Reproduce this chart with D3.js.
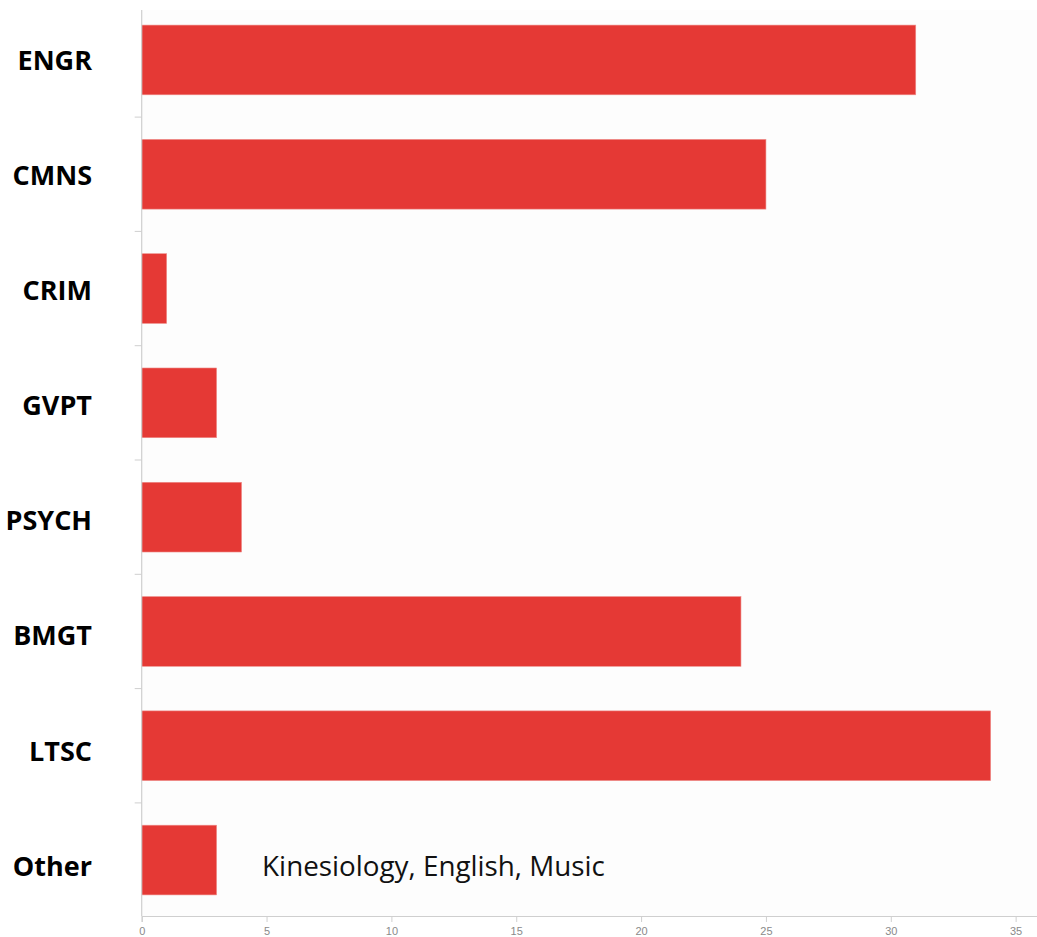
<!DOCTYPE html>
<html>
<head>
<meta charset="utf-8">
<script src="https://cdn.jsdelivr.net/npm/d3@7"></script>
<style>
  html, body { margin: 0; padding: 0; background: #ffffff; }
  svg { display: block; }
</style>
</head>
<body>
<svg id="chart" width="1037" height="937"></svg>
<script>
const categories = ["ENGR", "CMNS", "CRIM", "GVPT", "PSYCH", "BMGT", "LTSC", "Other"];
const values = [31, 25, 1, 3, 4, 24, 34, 3];
const xTicks = [0, 5, 10, 15, 20, 25, 30, 35];
const annotationText = "Kinesiology, English, Music";
const annotationCategory = "Other";

const svg = d3.select("#chart");
const W = 1037, H = 937;
const axisY = 916;

const x = d3.scaleLinear().domain([0, 36]).range([141.7, 1040.6]);
const y = d3.scaleBand().domain(categories).range([2.8, 917.2])
  .paddingInner(0.39).paddingOuter(0.195);
// label placement (labels sit on an evenly spaced grid)
const yLabel = d3.scalePoint().domain(categories).range([60.3, 866]);

// plot background
svg.append("rect").attr("x", x(0)).attr("y", 10).attr("width", W - x(0)).attr("height", axisY - 10)
  .attr("fill", "#fdfdfd");

// bars
svg.append("g").selectAll("rect").data(categories).join("rect")
  .attr("x", x(0))
  .attr("y", d => y(d))
  .attr("width", (d, i) => x(values[i]) - x(0))
  .attr("height", y.bandwidth())
  .attr("fill", "#e53935")
  .attr("stroke", "#ef8f8c")
  .attr("stroke-width", 0.6);

// x axis
const xAxis = d3.axisBottom(x).tickValues(xTicks).tickSize(6).tickPadding(5);
const gx = svg.append("g").attr("transform", `translate(0,${axisY})`).call(xAxis);
gx.select(".domain").attr("stroke", "#cfcfcf").attr("stroke-width", 1.2);
gx.selectAll(".tick line").attr("stroke", "#cfcfcf");
gx.selectAll(".tick text").attr("fill", "#8a8a8a")
  .style("font-family", "'Liberation Sans', Arial, sans-serif").style("font-size", "11px");

// y axis line and boundary ticks
const step = y.step();
const boundaries = categories.slice(1).map(c => y(c) - step * y.paddingInner() / 2);
svg.append("line").attr("x1", x(0)).attr("x2", x(0)).attr("y1", 10).attr("y2", axisY)
  .attr("stroke", "#cfcfcf").attr("stroke-width", 1.2);
svg.append("g").selectAll("line").data(boundaries).join("line")
  .attr("x1", x(0) - 7).attr("x2", x(0))
  .attr("y1", d => d).attr("y2", d => d)
  .attr("stroke", "#cfcfcf");

// category labels
const fs = 27;
svg.append("g").selectAll("text").data(categories).join("text")
  .attr("x", 92)
  .attr("y", d => yLabel(d) + fs * 0.714 / 2)
  .attr("text-anchor", "end")
  .style("font-family", "'Open Sans', 'Noto Sans', sans-serif")
  .style("font-weight", "700")
  .style("font-size", fs + "px")
  .attr("fill", "#000")
  .text(d => d);

// annotation
const ann = svg.append("text")
  .attr("x", x(3) + 45.5)
  .attr("y", y(annotationCategory) + y.bandwidth() * 0.73)
  .style("font-family", "'Open Sans', 'Noto Sans', sans-serif")
  .style("font-size", "28px")
  .attr("fill", "#111")
  .text(annotationText);
const len = ann.node().getComputedTextLength();
ann.style("font-size", (28 * 343 / len) + "px");
</script>
</body>
</html>
